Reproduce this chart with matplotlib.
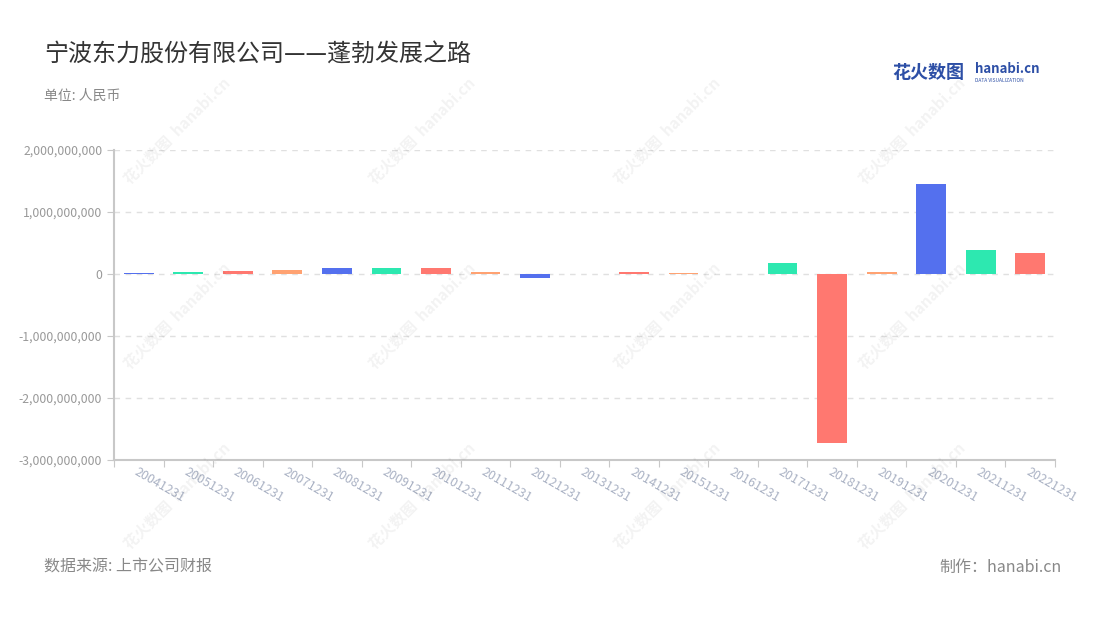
import numpy as np
import matplotlib
matplotlib.use("Agg")
import matplotlib.pyplot as plt
from matplotlib.ticker import FuncFormatter

plt.rcParams['font.family'] = ['Noto Sans CJK SC', 'DejaVu Sans']

# data (yuan)
years = ["20041231", "20051231", "20061231", "20071231", "20081231", "20091231",
         "20101231", "20111231", "20121231", "20131231", "20141231", "20151231",
         "20161231", "20171231", "20181231", "20191231", "20201231", "20211231",
         "20221231"]
values = [20e6, 25e6, 45e6, 70e6, 100e6, 90e6,
          90e6, 25e6, -65e6, -8e6, 25e6, 10e6,
          8e6, 178e6, -2.72e9, 38e6, 1.45e9, 387e6,
          340e6]
palette = ["#5470ee", "#2de8b0", "#ff7870", "#ffa272"]

fig = plt.figure(figsize=(11, 6.2), dpi=100)
ax = fig.add_axes([114/1100, 1 - 460/620, (1055-114)/1100, (460-150)/620])

x = np.arange(len(years))
cols = [palette[i % 4] for i in range(len(years))]
ax.bar(x, values, width=0.6, color=cols, zorder=3)

ax.set_xlim(-0.5, len(years) - 0.5)
ax.set_ylim(-3e9, 2e9)
ax.set_yticks(np.arange(-3e9, 2.01e9, 1e9))
ax.yaxis.set_major_formatter(FuncFormatter(lambda v, p: f"{int(round(v)):,}"))
ax.tick_params(axis='y', colors="#c8c8c8", labelcolor="#999999", labelsize=8.8, length=5)
for yv in np.arange(-2e9, 2.01e9, 1e9):
    ax.axhline(yv, color="#e0e0e0", lw=1, ls=(0, (4, 4)), zorder=1)

ax.set_xticks(np.arange(-0.5, len(years), 1.0), minor=False)
ax.set_xticklabels([])
ax.tick_params(axis='x', colors="#c8c8c8", length=5)
for i, lab in enumerate(years):
    ax.text(i, -3.08e9, lab, rotation=-30, ha='left', va='top', rotation_mode='anchor',
            fontsize=9, color="#aab2c4", transform=ax.transData, clip_on=False)

for s in ['top', 'right']:
    ax.spines[s].set_visible(False)
ax.spines['left'].set_color("#c8c8c8")
ax.spines['bottom'].set_color("#c8c8c8")
ax.spines['left'].set_linewidth(1.5)
ax.spines['bottom'].set_linewidth(1.5)

# watermark tiles
for wx in [130, 375, 620, 865]:
    for wy in [185, 370, 550]:
        fig.text(wx/1100, 1 - wy/620, "花火数图  hanabi.cn", rotation=45, fontsize=11,
                 color="#000000", alpha=0.05, ha='left', va='baseline',
                 rotation_mode='anchor', fontweight='bold')

fig.text(44/1100, 1 - 55/620, "宁波东力股份有限公司——蓬勃发展之路", fontsize=17.3,
         color="#333333", va='center')
fig.text(44/1100, 1 - 96/620, "单位: 人民币", fontsize=10, color="#888888", va='center')
fig.text(44/1100, 1 - 567/620, "数据来源: 上市公司财报", fontsize=11.5, color="#888888", va='center')
fig.text(1062/1100, 1 - 567/620, "制作：hanabi.cn", fontsize=11.5, color="#888888",
         va='center', ha='right')
fig.text(892/1100, 1 - 72/620, "花火数图", fontsize=13, color="#2d4fa6", va='center',
         fontweight='bold')
fig.text(975/1100, 1 - 69/620, "hanabi.cn", fontsize=9.5, color="#2d4fa6", va='center',
         fontweight='bold')
fig.text(975/1100, 1 - 80/620, "DATA VISUALIZATION", fontsize=3.5, color="#2d4fa6",
         va='center')

fig.savefig("out.png", dpi=100)
